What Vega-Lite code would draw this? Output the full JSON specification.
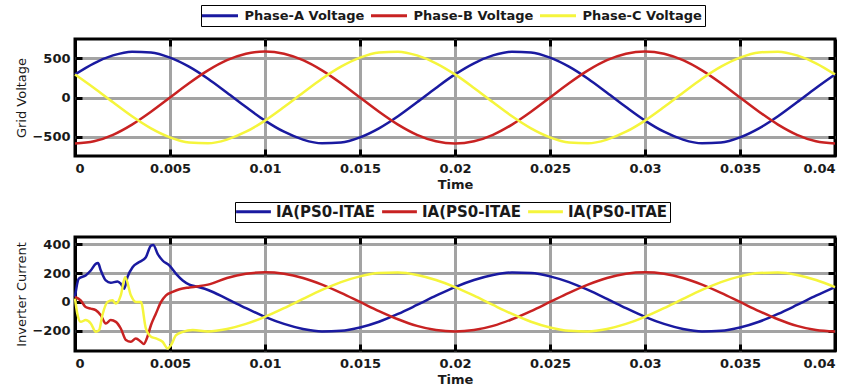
{
  "$schema": "https://vega.github.io/schema/vega-lite/v6.json",
  "background": "white",
  "padding": {"left": 14, "top": 3, "right": 10, "bottom": 0},
  "spacing": 7,
  "resolve": {"scale": {"color": "independent", "x": "independent", "y": "independent"}},
  "datasets": {
    "grid": [
      {"t": 0, "A": 294, "B": -587, "C": 294},
      {"t": 0.001, "A": 436, "B": -558, "C": 122},
      {"t": 0.002, "A": 536, "B": -475, "C": -61},
      {"t": 0.003, "A": 584, "B": -345, "C": -239},
      {"t": 0.004, "A": 574, "B": -181, "C": -393},
      {"t": 0.005, "A": 508, "B": 0, "C": -508},
      {"t": 0.006, "A": 393, "B": 181, "C": -574},
      {"t": 0.007, "A": 239, "B": 345, "C": -584},
      {"t": 0.008, "A": 61, "B": 475, "C": -536},
      {"t": 0.009, "A": -122, "B": 558, "C": -436},
      {"t": 0.010, "A": -294, "B": 587, "C": -294},
      {"t": 0.011, "A": -436, "B": 558, "C": -122},
      {"t": 0.012, "A": -536, "B": 475, "C": 61},
      {"t": 0.013, "A": -584, "B": 345, "C": 239},
      {"t": 0.014, "A": -574, "B": 181, "C": 393},
      {"t": 0.015, "A": -508, "B": 0, "C": 508},
      {"t": 0.016, "A": -393, "B": -181, "C": 574},
      {"t": 0.017, "A": -239, "B": -345, "C": 584},
      {"t": 0.018, "A": -61, "B": -475, "C": 536},
      {"t": 0.019, "A": 122, "B": -558, "C": 436},
      {"t": 0.020, "A": 294, "B": -587, "C": 294},
      {"t": 0.021, "A": 436, "B": -558, "C": 122},
      {"t": 0.022, "A": 536, "B": -475, "C": -61},
      {"t": 0.023, "A": 584, "B": -345, "C": -239},
      {"t": 0.024, "A": 574, "B": -181, "C": -393},
      {"t": 0.025, "A": 508, "B": 0, "C": -508},
      {"t": 0.026, "A": 393, "B": 181, "C": -574},
      {"t": 0.027, "A": 239, "B": 345, "C": -584},
      {"t": 0.028, "A": 61, "B": 475, "C": -536},
      {"t": 0.029, "A": -122, "B": 558, "C": -436},
      {"t": 0.030, "A": -294, "B": 587, "C": -294},
      {"t": 0.031, "A": -436, "B": 558, "C": -122},
      {"t": 0.032, "A": -536, "B": 475, "C": 61},
      {"t": 0.033, "A": -584, "B": 345, "C": 239},
      {"t": 0.034, "A": -574, "B": 181, "C": 393},
      {"t": 0.035, "A": -508, "B": 0, "C": 508},
      {"t": 0.036, "A": -393, "B": -181, "C": 574},
      {"t": 0.037, "A": -239, "B": -345, "C": 584},
      {"t": 0.038, "A": -61, "B": -475, "C": 536},
      {"t": 0.039, "A": 122, "B": -558, "C": 436},
      {"t": 0.040, "A": 294, "B": -587, "C": 294}
    ],
    "inv": [
      {"t": 0, "s": "IA", "v": 35}, {"t": 0.0002, "s": "IA", "v": 161}, {"t": 0.00056, "s": "IA", "v": 184},
      {"t": 0.00083, "s": "IA", "v": 218}, {"t": 0.00109, "s": "IA", "v": 264}, {"t": 0.00121, "s": "IA", "v": 269},
      {"t": 0.00136, "s": "IA", "v": 218}, {"t": 0.00162, "s": "IA", "v": 149}, {"t": 0.00188, "s": "IA", "v": 133},
      {"t": 0.00224, "s": "IA", "v": 142}, {"t": 0.00241, "s": "IA", "v": 126}, {"t": 0.00259, "s": "IA", "v": 92},
      {"t": 0.00276, "s": "IA", "v": 172}, {"t": 0.00303, "s": "IA", "v": 241}, {"t": 0.00338, "s": "IA", "v": 276},
      {"t": 0.00373, "s": "IA", "v": 310}, {"t": 0.004, "s": "IA", "v": 391}, {"t": 0.00412, "s": "IA", "v": 395},
      {"t": 0.00435, "s": "IA", "v": 333}, {"t": 0.00461, "s": "IA", "v": 287}, {"t": 0.00496, "s": "IA", "v": 253},
      {"t": 0.00532, "s": "IA", "v": 195}, {"t": 0.00567, "s": "IA", "v": 149}, {"t": 0.00602, "s": "IA", "v": 120},
      {"t": 0.0065, "s": "IA", "v": 103},
      {"t": 0.007, "s": "IA", "v": 83}, {"t": 0.008, "s": "IA", "v": 21}, {"t": 0.009, "s": "IA", "v": -43},
      {"t": 0.010, "s": "IA", "v": -103}, {"t": 0.011, "s": "IA", "v": -152}, {"t": 0.012, "s": "IA", "v": -187},
      {"t": 0.013, "s": "IA", "v": -204}, {"t": 0.014, "s": "IA", "v": -200}, {"t": 0.015, "s": "IA", "v": -177},
      {"t": 0.016, "s": "IA", "v": -137}, {"t": 0.017, "s": "IA", "v": -83}, {"t": 0.018, "s": "IA", "v": -21},
      {"t": 0.019, "s": "IA", "v": 43}, {"t": 0.020, "s": "IA", "v": 103}, {"t": 0.021, "s": "IA", "v": 152},
      {"t": 0.022, "s": "IA", "v": 187}, {"t": 0.023, "s": "IA", "v": 204}, {"t": 0.024, "s": "IA", "v": 200},
      {"t": 0.025, "s": "IA", "v": 177}, {"t": 0.026, "s": "IA", "v": 137}, {"t": 0.027, "s": "IA", "v": 83},
      {"t": 0.028, "s": "IA", "v": 21}, {"t": 0.029, "s": "IA", "v": -43}, {"t": 0.030, "s": "IA", "v": -103},
      {"t": 0.031, "s": "IA", "v": -152}, {"t": 0.032, "s": "IA", "v": -187}, {"t": 0.033, "s": "IA", "v": -204},
      {"t": 0.034, "s": "IA", "v": -200}, {"t": 0.035, "s": "IA", "v": -177}, {"t": 0.036, "s": "IA", "v": -137},
      {"t": 0.037, "s": "IA", "v": -83}, {"t": 0.038, "s": "IA", "v": -21}, {"t": 0.039, "s": "IA", "v": 43},
      {"t": 0.040, "s": "IA", "v": 103},

      {"t": 0, "s": "IB", "v": 35}, {"t": 0.0003, "s": "IB", "v": 10}, {"t": 0.00056, "s": "IB", "v": -35},
      {"t": 0.00083, "s": "IB", "v": -46}, {"t": 0.00109, "s": "IB", "v": -57}, {"t": 0.00136, "s": "IB", "v": -92},
      {"t": 0.00162, "s": "IB", "v": -149}, {"t": 0.00188, "s": "IB", "v": -126}, {"t": 0.00215, "s": "IB", "v": -138},
      {"t": 0.00241, "s": "IB", "v": -184}, {"t": 0.00268, "s": "IB", "v": -264}, {"t": 0.00294, "s": "IB", "v": -276},
      {"t": 0.0032, "s": "IB", "v": -253}, {"t": 0.00347, "s": "IB", "v": -276}, {"t": 0.00362, "s": "IB", "v": -292},
      {"t": 0.00378, "s": "IB", "v": -253}, {"t": 0.004, "s": "IB", "v": -160}, {"t": 0.00426, "s": "IB", "v": -80},
      {"t": 0.00453, "s": "IB", "v": 0}, {"t": 0.00479, "s": "IB", "v": 46}, {"t": 0.00514, "s": "IB", "v": 69},
      {"t": 0.0055, "s": "IB", "v": 88}, {"t": 0.00602, "s": "IB", "v": 100}, {"t": 0.0065, "s": "IB", "v": 108},
      {"t": 0.007, "s": "IB", "v": 120}, {"t": 0.008, "s": "IB", "v": 166}, {"t": 0.009, "s": "IB", "v": 195},
      {"t": 0.010, "s": "IB", "v": 205}, {"t": 0.011, "s": "IB", "v": 195}, {"t": 0.012, "s": "IB", "v": 166},
      {"t": 0.013, "s": "IB", "v": 120}, {"t": 0.014, "s": "IB", "v": 63}, {"t": 0.015, "s": "IB", "v": 0},
      {"t": 0.016, "s": "IB", "v": -63}, {"t": 0.017, "s": "IB", "v": -120}, {"t": 0.018, "s": "IB", "v": -166},
      {"t": 0.019, "s": "IB", "v": -195}, {"t": 0.020, "s": "IB", "v": -205}, {"t": 0.021, "s": "IB", "v": -195},
      {"t": 0.022, "s": "IB", "v": -166}, {"t": 0.023, "s": "IB", "v": -120}, {"t": 0.024, "s": "IB", "v": -63},
      {"t": 0.025, "s": "IB", "v": 0}, {"t": 0.026, "s": "IB", "v": 63}, {"t": 0.027, "s": "IB", "v": 120},
      {"t": 0.028, "s": "IB", "v": 166}, {"t": 0.029, "s": "IB", "v": 195}, {"t": 0.030, "s": "IB", "v": 205},
      {"t": 0.031, "s": "IB", "v": 195}, {"t": 0.032, "s": "IB", "v": 166}, {"t": 0.033, "s": "IB", "v": 120},
      {"t": 0.034, "s": "IB", "v": 63}, {"t": 0.035, "s": "IB", "v": 0}, {"t": 0.036, "s": "IB", "v": -63},
      {"t": 0.037, "s": "IB", "v": -120}, {"t": 0.038, "s": "IB", "v": -166}, {"t": 0.039, "s": "IB", "v": -195},
      {"t": 0.040, "s": "IB", "v": -205},

      {"t": 0, "s": "IC", "v": 23}, {"t": 0.00012, "s": "IC", "v": -80}, {"t": 0.0003, "s": "IC", "v": -138},
      {"t": 0.00056, "s": "IC", "v": -126}, {"t": 0.00083, "s": "IC", "v": -149}, {"t": 0.00109, "s": "IC", "v": -207},
      {"t": 0.00127, "s": "IC", "v": -195}, {"t": 0.00144, "s": "IC", "v": -92}, {"t": 0.00171, "s": "IC", "v": 0},
      {"t": 0.00197, "s": "IC", "v": 11}, {"t": 0.00215, "s": "IC", "v": -11}, {"t": 0.00241, "s": "IC", "v": 46},
      {"t": 0.00264, "s": "IC", "v": 172}, {"t": 0.00294, "s": "IC", "v": 46}, {"t": 0.0032, "s": "IC", "v": 0},
      {"t": 0.00347, "s": "IC", "v": 0}, {"t": 0.00373, "s": "IC", "v": -184}, {"t": 0.004, "s": "IC", "v": -241},
      {"t": 0.00426, "s": "IC", "v": -253}, {"t": 0.00461, "s": "IC", "v": -276}, {"t": 0.00488, "s": "IC", "v": -322},
      {"t": 0.00505, "s": "IC", "v": -300}, {"t": 0.00532, "s": "IC", "v": -230}, {"t": 0.00567, "s": "IC", "v": -207},
      {"t": 0.0062, "s": "IC", "v": -195},
      {"t": 0.007, "s": "IC", "v": -204}, {"t": 0.008, "s": "IC", "v": -187}, {"t": 0.009, "s": "IC", "v": -152},
      {"t": 0.010, "s": "IC", "v": -103}, {"t": 0.011, "s": "IC", "v": -43}, {"t": 0.012, "s": "IC", "v": 21},
      {"t": 0.013, "s": "IC", "v": 83}, {"t": 0.014, "s": "IC", "v": 137}, {"t": 0.015, "s": "IC", "v": 177},
      {"t": 0.016, "s": "IC", "v": 200}, {"t": 0.017, "s": "IC", "v": 204}, {"t": 0.018, "s": "IC", "v": 187},
      {"t": 0.019, "s": "IC", "v": 152}, {"t": 0.020, "s": "IC", "v": 103}, {"t": 0.021, "s": "IC", "v": 43},
      {"t": 0.022, "s": "IC", "v": -21}, {"t": 0.023, "s": "IC", "v": -83}, {"t": 0.024, "s": "IC", "v": -137},
      {"t": 0.025, "s": "IC", "v": -177}, {"t": 0.026, "s": "IC", "v": -200}, {"t": 0.027, "s": "IC", "v": -204},
      {"t": 0.028, "s": "IC", "v": -187}, {"t": 0.029, "s": "IC", "v": -152}, {"t": 0.030, "s": "IC", "v": -103},
      {"t": 0.031, "s": "IC", "v": -43}, {"t": 0.032, "s": "IC", "v": 21}, {"t": 0.033, "s": "IC", "v": 83},
      {"t": 0.034, "s": "IC", "v": 137}, {"t": 0.035, "s": "IC", "v": 177}, {"t": 0.036, "s": "IC", "v": 200},
      {"t": 0.037, "s": "IC", "v": 204}, {"t": 0.038, "s": "IC", "v": 187}, {"t": 0.039, "s": "IC", "v": 152},
      {"t": 0.040, "s": "IC", "v": 103}
    ]
  },
  "vconcat": [
    {
      "width": 760,
      "height": 117,
      "data": {"name": "grid"},
      "transform": [{"fold": ["A", "B", "C"], "as": ["phase", "v"]},
                    {"lookup": "phase", "from": {"data": {"values": [{"phase": "A", "name": "Phase-A Voltage"}, {"phase": "B", "name": "Phase-B Voltage"}, {"phase": "C", "name": "Phase-C Voltage"}]}, "key": "phase", "fields": ["name"]}}],
      "resolve": {"axis": {"x": "independent", "y": "independent"}},
      "layer": [
        {
          "mark": {"type": "line", "strokeWidth": 2.5, "interpolate": "monotone"},
          "encoding": {
            "x": {"field": "t", "type": "quantitative", "scale": {"domain": [0, 0.04], "nice": false},
                  "axis": {"values": [0, 0.005, 0.01, 0.015, 0.02, 0.025, 0.03, 0.035, 0.04], "format": "~g", "title": "Time", "labelPadding": 13, "titlePadding": 3,
                           "gridColor": {"condition": {"test": "datum.value == 0 || datum.value == 0.04", "value": "black"}, "value": "#a3a3a3"}}},
            "y": {"field": "v", "type": "quantitative", "scale": {"domain": [-745, 745], "nice": false},
                  "axis": {"values": [-500, 0, 500], "title": "Grid Voltage", "labelPadding": 12, "titlePadding": 3, "titleFontWeight": "normal"}},
            "color": {"field": "name", "type": "nominal",
                      "scale": {"domain": ["Phase-A Voltage", "Phase-B Voltage", "Phase-C Voltage"], "range": ["#1a1aa0", "#c82222", "#f5f53c"]},
                      "legend": {"orient": "none", "legendX": 126, "legendY": -34, "direction": "horizontal", "title": null,
                                 "labelFontSize": 13, "symbolType": "M-3,0H3", "symbolSize": 144, "symbolOffset": 8.5, "labelOffset": 17,
                                 "columnPadding": 0, "padding": 3}}
          }
        },
        {
          "mark": {"type": "line", "opacity": 0},
          "encoding": {
            "x": {"field": "t", "type": "quantitative",
                  "axis": {"orient": "top", "values": [0.005, 0.01, 0.015, 0.02, 0.025, 0.03, 0.035], "labels": false, "grid": false, "title": null}},
            "y": {"field": "v", "type": "quantitative",
                  "axis": {"orient": "right", "values": [-500, 0, 500], "labels": false, "grid": false, "title": null}},
            "detail": {"field": "phase"}
          }
        }
      ]
    },
    {
      "width": 760,
      "height": 114,
      "data": {"name": "inv"},
      "resolve": {"axis": {"x": "independent", "y": "independent"}},
      "layer": [
        {
          "mark": {"type": "line", "strokeWidth": 2.5, "interpolate": "monotone"},
          "encoding": {
            "x": {"field": "t", "type": "quantitative", "scale": {"domain": [0, 0.04], "nice": false},
                  "axis": {"values": [0, 0.005, 0.01, 0.015, 0.02, 0.025, 0.03, 0.035, 0.04], "format": "~g", "title": "Time", "labelPadding": 13, "titlePadding": 3,
                           "gridColor": {"condition": {"test": "datum.value == 0 || datum.value == 0.04", "value": "black"}, "value": "#a3a3a3"}}},
            "y": {"field": "v", "type": "quantitative", "scale": {"domain": [-340, 450], "nice": false},
                  "axis": {"values": [-200, 0, 200, 400], "title": "Inverter Current", "labelPadding": 12, "titlePadding": 3, "titleFontWeight": "normal"}},
            "color": {"field": "s", "type": "nominal",
                      "scale": {"domain": ["IA", "IB", "IC"], "range": ["#1a1aa0", "#c82222", "#f5f53c"]},
                      "legend": {"orient": "none", "legendX": 160, "legendY": -35, "direction": "horizontal", "title": null,
                                 "labelExpr": "'IA(PS0-ITAE'", "labelFontSize": 15, "symbolType": "M-2.9,0H2.9", "symbolSize": 144, "symbolOffset": 9, "labelOffset": 15,
                                 "columnPadding": 0, "padding": 2}}
          }
        },
        {
          "mark": {"type": "line", "opacity": 0},
          "encoding": {
            "x": {"field": "t", "type": "quantitative",
                  "axis": {"orient": "top", "values": [0.005, 0.01, 0.015, 0.02, 0.025, 0.03, 0.035], "labels": false, "grid": false, "title": null}},
            "y": {"field": "v", "type": "quantitative",
                  "axis": {"orient": "right", "values": [-200, 0, 200, 400], "labels": false, "grid": false, "title": null}},
            "detail": {"field": "s"}
          }
        }
      ]
    }
  ],
  "config": {
    "view": {"stroke": "black", "strokeWidth": 3},
    "axis": {
      "domain": false,
      "gridColor": "#a3a3a3", "gridWidth": 3, "gridOpacity": 1,
      "tickColor": "black", "tickWidth": 3, "tickSize": -7,
      "labelFont": "DejaVu Sans", "labelFontSize": 13, "labelFontWeight": "bold", "labelColor": "#1a1a1a",
      "titleFont": "DejaVu Sans", "titleFontSize": 13, "titleFontWeight": "bold", "titleColor": "#1a1a1a"
    },
    "legend": {
      "labelFont": "DejaVu Sans", "labelFontWeight": "bold", "labelColor": "#1a1a1a",
      "symbolStrokeWidth": 3,
      "strokeColor": "black", "fillColor": "white",
      "symbolOpacity": 1
    }
  }
}
